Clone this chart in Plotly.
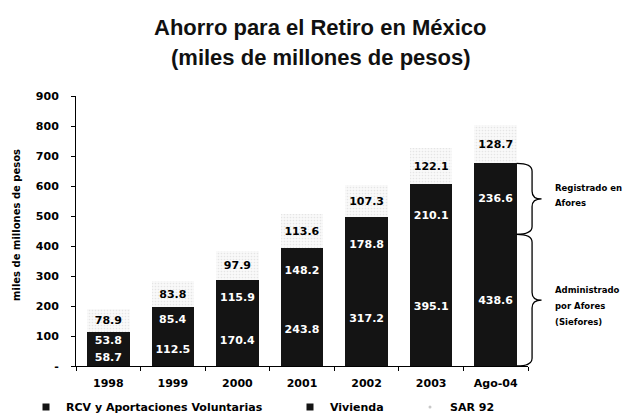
import plotly.graph_objects as go

# Ahorro para el Retiro en México, miles de millones de pesos
years = ["1998", "1999", "2000", "2001", "2002", "2003", "Ago-04"]
rcv = [58.7, 112.5, 170.4, 243.8, 317.2, 395.1, 438.6]
vivienda = [53.8, 85.4, 115.9, 148.2, 178.8, 210.1, 236.6]
sar92 = [78.9, 83.8, 97.9, 113.6, 107.3, 122.1, 128.7]

series_names = ["RCV y Aportaciones Voluntarias", "Vivienda", "SAR 92"]
y_ticks = [0, 100, 200, 300, 400, 500, 600, 700, 800, 900]
y_ticktext = ["-"] + [str(v) for v in y_ticks[1:]]

NUM_FONT = "DejaVu Sans"
TITLE_FONT = "Liberation Sans, Arial"
BAR_DARK = "#141414"

fig = go.Figure()

fig.add_trace(go.Bar(
    x=years, y=rcv, name=series_names[0], showlegend=False,
    marker=dict(color=BAR_DARK, line=dict(width=0)),
    text=[f"{v:.1f}" for v in rcv], textposition="inside",
    insidetextanchor="middle", textangle=0,
    textfont=dict(family=NUM_FONT, size=11, color="white", weight="bold"),
))
fig.add_trace(go.Bar(
    x=years, y=vivienda, name=series_names[1], showlegend=False,
    marker=dict(color=BAR_DARK, line=dict(width=0)),
    text=[f"{v:.1f}" for v in vivienda], textposition="inside",
    insidetextanchor="middle", textangle=0,
    textfont=dict(family=NUM_FONT, size=11, color="white", weight="bold"),
))
fig.add_trace(go.Bar(
    x=years, y=sar92, name=series_names[2], showlegend=False,
    marker=dict(
        color="#f7f7f7", line=dict(width=0),
        pattern=dict(shape=".", fgcolor="#d2d2d2", bgcolor="#f9f9f9",
                     size=3, solidity=0.25),
    ),
    text=[f"{v:.1f}" for v in sar92], textposition="inside",
    insidetextanchor="middle", textangle=0,
    textfont=dict(family=NUM_FONT, size=11, color="black", weight="bold"),
))

# legend entries, one legend per series so each sits where it belongs
legend_marks = [
    dict(symbol="square", size=7, color=BAR_DARK),
    dict(symbol="square", size=7, color=BAR_DARK),
    dict(symbol="circle", size=3, color="#c8c8c8"),
]
legend_ids = ["legend", "legend2", "legend3"]
for name, mk, lid in zip(series_names, legend_marks, legend_ids):
    fig.add_trace(go.Scatter(
        x=[None], y=[None], mode="markers", name=name, marker=mk,
        legend=lid, showlegend=True, hoverinfo="skip",
    ))

legend_common = dict(
    orientation="h", xref="container", yref="container",
    yanchor="middle", y=0.024, xanchor="left",
    bgcolor="rgba(0,0,0,0)", borderwidth=0,
    font=dict(family=NUM_FONT, size=11, color="black", weight="bold"),
    itemclick=False, itemdoubleclick=False,
)

# curly braces on the right of the last bar
def brace(x0, x1, x2, ytop, ybot, d):
    ym = (ytop + ybot) / 2
    return (f"M{x0},{ytop} Q{x1},{ytop} {x1},{ytop - d} "
            f"L{x1},{ym + d} Q{x1},{ym} {x2},{ym} "
            f"Q{x1},{ym} {x1},{ym - d} "
            f"L{x1},{ybot + d} Q{x1},{ybot} {x0},{ybot}")

last_rcv = rcv[-1]
last_top = rcv[-1] + vivienda[-1]
bx0, bx1, bx2 = 0.975, 1.009, 1.030
shapes = [
    dict(type="path", xref="paper", yref="y",
         path=brace(bx0, bx1, bx2, last_top, last_rcv, 26),
         line=dict(color="black", width=1.3)),
    dict(type="path", xref="paper", yref="y",
         path=brace(bx0, bx1, bx2, last_rcv, 0, 26),
         line=dict(color="black", width=1.3)),
]

side_font = dict(family=NUM_FONT, size=8.5, color="black", weight="bold")
upper_lines = ["Registrado en", "Afores"]
lower_lines = ["Administrado", "por Afores", "(Siefores)"]
annotations = []
upper_mid = (last_top + last_rcv) / 2
for i, t in enumerate(upper_lines):
    annotations.append(dict(
        x=1.055, xref="paper", y=upper_mid, yref="y", text=t,
        showarrow=False, xanchor="left", yanchor="middle",
        yshift=11 - 15.5 * i, font=side_font))
lower_mid = last_rcv / 2
for i, t in enumerate(lower_lines):
    annotations.append(dict(
        x=1.055, xref="paper", y=lower_mid, yref="y", text=t,
        showarrow=False, xanchor="left", yanchor="middle",
        yshift=10.5 - 16 * i, font=side_font))

# title lines
annotations.append(dict(
    x=0.542, xref="paper", y=1.252, yref="paper", xanchor="center",
    yanchor="middle", showarrow=False,
    text="Ahorro para el Retiro en México",
    font=dict(family=TITLE_FONT, size=22, color="#111", weight="bold")))
annotations.append(dict(
    x=0.542, xref="paper", y=1.143, yref="paper", xanchor="center",
    yanchor="middle", showarrow=False,
    text="(miles de millones de pesos)",
    font=dict(family=TITLE_FONT, size=22, color="#111", weight="bold")))

# y axis title
annotations.append(dict(
    x=-0.133, xref="paper", y=0.522, yref="paper", textangle=-90,
    xanchor="center", yanchor="middle", showarrow=False,
    text="miles de millones de pesos",
    font=dict(family=NUM_FONT, size=10, color="black", weight="bold")))

fig.update_layout(
    width=644, height=417,
    margin=dict(l=76, r=116, t=96, b=51, autoexpand=False),
    paper_bgcolor="white", plot_bgcolor="white",
    barmode="stack", bargap=0.34,
    showlegend=True,
    legend=dict(legend_common, x=26 / 644),
    legend2=dict(legend_common, x=290 / 644),
    legend3=dict(legend_common, x=410 / 644),
    shapes=shapes,
    annotations=annotations,
    uniformtext=dict(minsize=10, mode="show"),
    xaxis=dict(
        type="category", range=[-0.5, 6.5],
        showline=True, linecolor="black", linewidth=1,
        ticks="outside", tickson="boundaries", ticklen=4, tickcolor="black",
        ticklabelstandoff=7,
        tickfont=dict(family=NUM_FONT, size=11, color="black", weight="bold"),
        showgrid=False, zeroline=False, fixedrange=True,
    ),
    yaxis=dict(
        range=[0, 900], tickvals=y_ticks, ticktext=y_ticktext,
        showline=True, linecolor="black", linewidth=1,
        ticks="outside", ticklen=4, tickcolor="black",
        ticklabelstandoff=10,
        tickfont=dict(family=NUM_FONT, size=11, color="black", weight="bold"),
        showgrid=False, zeroline=False, fixedrange=True,
    ),
)

fig.write_html("out.html")
